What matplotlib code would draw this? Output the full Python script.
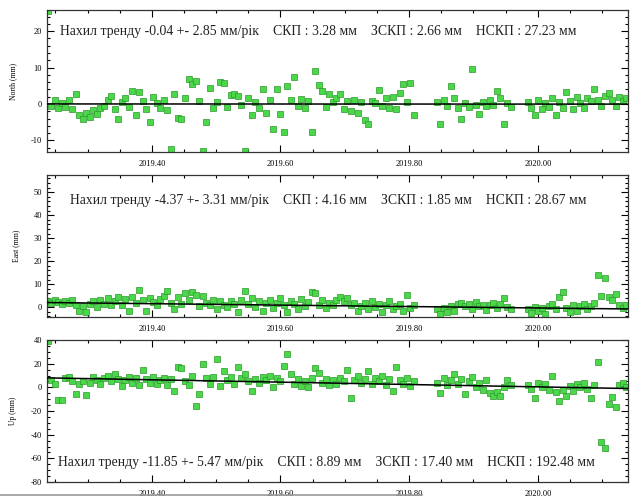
import numpy as np
import matplotlib
matplotlib.use("Agg")
import matplotlib.pyplot as plt
from matplotlib.lines import Line2D
from matplotlib.ticker import MultipleLocator, FormatStrFormatter

plt.rcParams["font.family"] = ["Liberation Serif", "DejaVu Serif"]
plt.rcParams["axes.unicode_minus"] = False

# epochs: three observation segments, one point every 2 days
step = 2 / 365.25
seg_starts = [2019.238, 2019.843, 2019.984]
seg_counts = [105, 22, 29]
t = np.concatenate([s + step * np.arange(n) for s, n in zip(seg_starts, seg_counts)])

north = [
    25.5, -0.5, 1.0, -1.0, 0.3, -0.8, 1.2, -1.5, 2.6, -3.0,
    -4.0, -2.5, -3.5, -1.8, -2.8, -1.2, -0.5, 1.0, 2.2, -1.5,
    -4.0, 0.5, 1.5, -0.8, 3.5, -3.0, 3.2, 0.8, -1.5, -5.0,
    1.8, 0.2, -1.0, 1.2, -1.8, -12.5, 2.8, -3.8, -4.0, 1.5,
    6.8, 5.5, 6.2, 0.8, -13.0, -5.0, 4.5, -1.0, 0.5, 6.0,
    5.8, -0.8, 2.5, 2.8, 2.2, -0.3, -12.8, 1.5, -3.0, 0.5,
    -1.2, 4.0, -2.5, 1.0, -6.8, 4.2, -2.8, -7.7, 5.0, 1.2,
    7.5, -0.5, 1.3, -1.0, 0.8, -7.7, 9.0, 5.2, 3.5, -0.8,
    2.8, 0.5, 1.5, 2.8, -1.5, 0.8, -2.0, 1.0, -2.5, 0.5,
    -4.5, -5.5, 0.8, 0.2, 3.8, -0.5, 1.5, -1.0, 2.0, -1.5,
    3.0, 5.5, 0.5, 5.8, -3.0,
    0.5, -5.6, 1.0, -0.5, 5.0, 1.5, -1.0, -4.0, 0.3, -0.8,
    9.5, -0.3, -2.8, 0.6, -0.5, 1.0, -0.2, 3.6, 1.5, -5.4,
    0.2, -0.8,
    0.5, -1.0, -3.0, 1.0, -1.5, 0.2, -0.8, 1.5, -3.0, 0.5,
    -1.2, 3.2, 0.8, -1.5, 1.8, 0.3, -1.0, 1.6, 0.8, 4.0,
    1.2, -0.5, 2.2, 3.0, 1.0, -0.5, 2.0, 0.8, 1.5,
]

east = [
    2.5, 1.8, 3.0, 2.2, 1.5, 2.8, 2.0, 3.2, 1.0, -1.5,
    0.5, -2.0, 1.2, 2.5, 0.0, 3.0, 1.5, 3.8, 0.8, 2.5,
    4.2, 1.0, 3.5, -1.5, 4.5, 2.0, 7.4, 3.2, -1.8, 4.0,
    2.2, 1.0, 3.6, 5.0, 7.2, 2.0, -0.8, 4.5, 1.5, 6.0,
    3.0, 6.5, 5.2, 0.5, 4.8, 2.0, 0.8, 3.3, -1.0, 2.5,
    1.0, 0.0, 2.8, 1.2, -2.0, 3.0, 7.0, 1.5, 3.8, 0.2,
    2.5, -1.5, 1.8, 3.2, -0.5, 2.0, 4.0, 0.8, -2.2, 2.8,
    1.2, -1.0, 3.5, 0.5, 2.2, 6.5, 6.0, 1.0, 3.0, -0.5,
    2.0, 0.8, 3.2, 4.5, 2.5, 3.8, 1.0, 2.0, -1.5, 0.5,
    1.8, -0.8, 2.5, 0.2, 1.5, -2.2, 1.0, 2.8, -1.0, 0.5,
    1.5, -1.8, 5.2, -0.5, 0.8,
    -1.0, -3.0, -0.5, -2.2, 0.5, -1.5, 1.2, 2.0, 0.3, 1.5,
    -0.8, 2.2, 0.5, 1.0, -1.2, 0.8, 2.0, -0.5, 1.2, 3.8,
    0.0, -1.0,
    -1.0, -2.5, 0.2, -1.8, -0.5, -2.8, 0.5, 1.5, -1.0, 4.5,
    6.7, -0.5, -2.0, 0.8, -1.5, 0.3, 1.2, -1.0, 0.5, 2.0,
    14.0, 5.0, 12.8, 4.2, 3.0, 5.5, 1.0, -0.5, 0.8,
]

up = [
    39.0, 6.0, 3.0, -11.0, -10.5, 8.0, 9.0, 5.0, -6.0, 3.0,
    5.0, -6.5, 4.0, 9.0, 6.0, 3.0, 8.0, 10.0, 5.0, 11.0,
    7.0, 1.0, 6.0, 9.0, 4.0, 8.0, 2.0, 14.5, 7.0, 4.0,
    9.0, 3.0, 6.0, 8.0, 2.0, 7.0, -3.0, 17.0, 16.0, 5.0,
    2.0, 10.0, -16.0, -6.0, 19.5, 8.0, 3.0, 9.0, 24.0, 1.0,
    14.0, 6.0, 9.0, 3.0, 17.0, 8.0, 11.0, 5.0, -3.0, 7.0,
    4.0, 9.0, 6.0, 10.0, 0.0, 8.0, 5.0, 18.0, 28.0, 11.0,
    3.0, 7.0, 1.0, 5.0, 0.5, 8.0, 16.0, 12.0, 4.0, 7.0,
    2.0, 6.0, 3.0, 8.0, 5.0, 15.0, -9.0, 6.0, 10.0, 4.0,
    7.0, 14.0, 3.0, 8.0, 5.0, 10.0, 2.0, 7.0, -3.0, 17.0,
    6.0, 3.0, 8.0, 1.0, 5.0,
    4.0, -4.5, 8.0, 2.0, 6.0, 11.0, 3.0, 7.0, -6.0, 5.0,
    9.0, 0.0, 4.0, -2.0, 6.0, -5.0, -7.0, -4.0, -7.5, 0.0,
    6.0, 2.0,
    2.0, -1.0, -9.0, 4.0, 0.0, 3.0, -2.0, 9.7, -4.0, -11.7,
    -2.0, -7.0, 1.0, -3.0, 3.0, 0.0, 4.0, -1.0, -9.0, 2.0,
    21.0, -46.0, -51.0, -14.0, -8.0, -17.0, 2.0, 4.0, 0.0,
]

# trend line values at the left and right edge of the time window
xlim = (2019.237, 2020.14)
trend_ends = {"north": (0.0, -0.05), "east": (2.0, -0.8), "up": (8.0, -1.0)}

labels = ["North (mm)", "East (mm)", "Up (mm)"]
ylims = [(-13.2, 25.8), (-4.3, 57.5), (-80, 40)]
ymajor = [10, 10, 20]
yminor = [2, 2, 5]
sep = "    "
notes = [
    sep.join(["Нахил тренду -0.04 +- 2.85 мм/рік", "СКП : 3.28 мм",
              "ЗСКП : 2.66 мм", "НСКП : 27.23 мм"]),
    sep.join(["Нахил тренду -4.37 +- 3.31 мм/рік", "СКП : 4.16 мм",
              "ЗСКП : 1.85 мм", "НСКП : 28.67 мм"]),
    sep.join(["Нахил тренду -11.85 +- 5.47 мм/рік", "СКП : 8.89 мм",
              "ЗСКП : 17.40 мм", "НСКП : 192.48 мм"]),
]
note_pos = [(0.022, 0.85), (0.039, 0.82), (0.019, 0.135)]

fig = plt.figure(figsize=(6.3, 5.0), dpi=100)
boxes = [[0.0746, 0.696, 0.922, 0.284],
         [0.0746, 0.366, 0.922, 0.284],
         [0.0746, 0.036, 0.922, 0.284]]

for k, (series, key) in enumerate(zip([north, east, up], ["north", "east", "up"])):
    ax = fig.add_axes(boxes[k])
    ax.plot(xlim, trend_ends[key], color="black", lw=1.1, zorder=3)
    ax.plot(t, series, ls="none", marker="s", ms=5, mfc="#4ad84a",
            mec="#2a9a2a", mew=0.5, zorder=2)
    ax.set_xlim(*xlim)
    ax.set_ylim(*ylims[k])
    ax.xaxis.set_major_locator(MultipleLocator(0.2))
    ax.xaxis.set_minor_locator(MultipleLocator(0.05))
    ax.xaxis.set_major_formatter(FormatStrFormatter("%.2f"))
    ax.yaxis.set_major_locator(MultipleLocator(ymajor[k]))
    ax.yaxis.set_minor_locator(MultipleLocator(yminor[k]))
    ax.tick_params(which="both", direction="in", top=True, right=True,
                   labelsize=6, width=0.8)
    ax.tick_params(axis="x", pad=6)
    ax.tick_params(which="major", length=5)
    ax.tick_params(which="minor", length=2.5)
    for s in ax.spines.values():
        s.set_linewidth(0.9)
        s.set_color("#333333")
    ax.set_ylabel(labels[k], fontsize=5.5, labelpad=10)
    ax.text(note_pos[k][0], note_pos[k][1], notes[k], transform=ax.transAxes,
            fontsize=9.9, color="#222222", va="center", ha="left")

fig.add_artist(Line2D([0.0, 0.67], [0.01, 0.01], color="#999999", lw=1.2))

fig.savefig("out.png", dpi=100)
